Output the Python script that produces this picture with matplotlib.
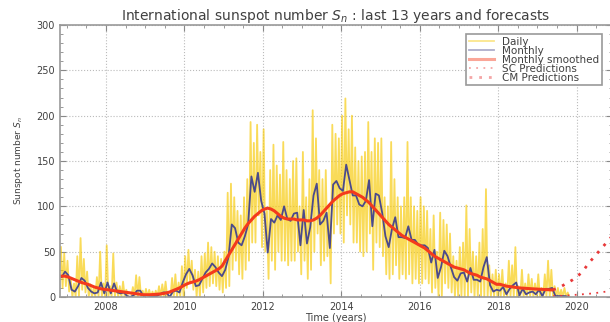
import matplotlib
matplotlib.use("Agg")
import matplotlib.pyplot as plt
import numpy as np
from matplotlib.ticker import MultipleLocator

# monthly mean sunspot number, Nov 2006 .. Oct 2019
start_year = 2006 + 10 / 12.0
monthly = [
    22, 28,
    24, 8, 6, 12, 21, 18, 10, 6, 4, 5, 16, 4,               # 2007
    16, 4, 15, 5, 4, 5, 1, 0, 2, 7, 7, 1,                   # 2008
    2, 1, 1, 1, 3, 5, 5, 0, 6, 7, 5, 16,                    # 2009
    25, 31, 24, 12, 13, 20, 27, 31, 37, 33, 27, 23,         # 2010
    30, 44, 80, 76, 60, 57, 67, 80, 133, 116, 137, 106,     # 2011
    92, 49, 86, 82, 90, 85, 100, 86, 84, 92, 93, 57,        # 2012
    96, 59, 77, 112, 125, 80, 84, 93, 54, 124, 128, 120,    # 2013
    117, 146, 129, 112, 112, 102, 100, 106, 129, 78, 114, 112,  # 2014
    93, 67, 55, 75, 88, 66, 66, 65, 78, 63, 63, 58,         # 2015
    57, 57, 54, 38, 52, 21, 33, 51, 45, 33, 22, 18,         # 2016
    26, 27, 17, 32, 19, 19, 17, 33, 44, 13, 6, 8,           # 2017
    7, 11, 3, 9, 13, 16, 2, 9, 3, 5, 6, 3,                  # 2018
    8, 1, 9, 9, 10, 1, 1, 1, 1, 0,                          # 2019
]

# 13-month smoothed, Nov 2006 .. May 2019
smoothed = [
    23, 23,
    22, 20.5, 19, 17.5, 16, 15, 14, 12.5, 11, 10, 9, 8.5,
    8, 7.5, 7, 6.5, 6, 5.5, 5, 4.5, 4, 3.5, 3, 2.5,
    2.5, 2.5, 2.7, 3, 3.3, 3.8, 4.5, 5.5, 7, 8.5, 10, 12,
    14, 15.5, 16.5, 17.5, 19, 21, 23, 25, 27, 29, 31, 34,
    40, 46, 52, 58, 64, 70, 76, 81, 85, 89, 92, 95,
    97, 98, 97, 95, 92, 89, 87, 86, 86, 86, 85, 85,
    85, 84, 84, 85, 87, 90, 94, 98, 102, 106, 109, 112,
    114, 115, 116, 116, 114, 112, 110, 107, 104, 100, 96, 92,
    88, 84, 80, 77, 74, 71, 68, 66, 64, 62, 60, 58,
    56, 54, 51, 48, 45, 43, 41, 39, 37, 35, 33, 32,
    31, 30, 28, 26, 25, 24, 22, 21, 20, 18, 16, 14,
    14, 13, 12, 11.5, 11, 10.5, 10, 9.8, 9.5, 9.2, 9, 8.8,
    8.6, 8.4, 8.2, 8, 7.8,
]

# daily values: one high and one low reading per month
daily = [
    55, 10, 48, 12,
    40, 6, 20, 0, 15, 0, 45, 0, 65, 8, 42, 5, 28, 0, 14, 0, 10, 0, 22, 0, 50, 0, 15, 0,
    57, 0, 12, 0, 48, 0, 16, 0, 12, 0, 17, 0, 8, 0, 0, 0, 11, 0, 24, 0, 22, 0, 7, 0,
    9, 0, 8, 0, 6, 0, 7, 0, 12, 0, 14, 0, 17, 0, 0, 0, 21, 0, 25, 0, 16, 0, 34, 0,
    45, 10, 52, 15, 40, 8, 30, 0, 28, 0, 45, 5, 48, 10, 60, 12, 55, 15, 50, 12, 45, 8, 42, 5,
    50, 10, 115, 12, 125, 30, 110, 40, 95, 25, 90, 20, 110, 30, 130, 40, 193, 60, 170, 60, 190, 90, 160, 55,
    185, 50, 95, 20, 140, 40, 168, 30, 145, 50, 135, 40, 171, 40, 140, 35, 130, 40, 150, 40, 153, 50, 100, 25,
    160, 40, 110, 20, 130, 30, 206, 50, 175, 70, 140, 35, 130, 40, 140, 45, 100, 15, 190, 70, 180, 80, 175, 70,
    200, 60, 219, 90, 185, 80, 200, 60, 165, 60, 150, 50, 155, 45, 160, 50, 193, 70, 160, 30, 175, 60, 170, 55,
    175, 45, 110, 25, 100, 20, 171, 25, 130, 35, 110, 20, 100, 25, 110, 20, 171, 25, 110, 15, 100, 20, 95, 15,
    110, 15, 100, 20, 95, 15, 75, 5, 90, 10, 50, 0, 93, 0, 85, 15, 80, 10, 70, 5, 45, 0, 40, 0,
    55, 0, 60, 0, 101, 0, 75, 5, 50, 0, 45, 0, 60, 0, 75, 0, 119, 0, 35, 0, 25, 0, 30, 0,
    25, 0, 30, 0, 15, 0, 40, 0, 35, 0, 55, 0, 12, 0, 30, 0, 15, 0, 25, 0, 20, 0, 15, 0,
    25, 0, 10, 0, 25, 0, 40, 0, 30, 0, 12, 0, 10, 0, 8, 0, 10, 0, 5, 0,
]

# forecasts
cm_years = [2019.4, 2019.5, 2019.6, 2019.7, 2019.8, 2019.9, 2020.0, 2020.1,
            2020.2, 2020.3, 2020.4, 2020.5, 2020.6, 2020.7, 2020.8, 2020.9]
cm_pred = [8, 9.5, 11.5, 14, 16.5, 19, 22, 26, 31, 37, 42, 47, 52, 57, 62, 67]
sc_years = [2019.4, 2019.7, 2020.0, 2020.3, 2020.6, 2020.9]
sc_pred = [1, 1.5, 2.5, 3.5, 5, 7]

t_month = start_year + (np.arange(len(monthly)) + 0.5) / 12.0
t_smooth = start_year + (np.arange(len(smoothed)) + 0.5) / 12.0
t_daily = start_year + (np.arange(len(daily)) + 0.5) / 24.0

txt = '#404040'
fig = plt.figure(figsize=(6.10, 3.22), dpi=100)
ax = fig.add_axes([60 / 610., 25 / 322., 552 / 610., 272 / 322.])

ax.plot(t_daily, daily, color='#f7c800', lw=1.3, alpha=0.65, label='Daily')
ax.plot(t_month, monthly, color='#4a4a8c', lw=1.3, label='Monthly')
ax.plot(t_smooth, smoothed, color='#f43a1c', lw=2.2, label='Monthly smoothed')
ax.plot(sc_years, sc_pred, color='#e8393a', lw=1.3, ls=(0, (1, 3)), label='SC Predictions')
ax.plot(cm_years, cm_pred, color='#e8393a', lw=2.0, ls=(0, (1, 2.5)), label='CM Predictions')

ax.set_xlim(2006.83, 2020.9)
ax.set_ylim(0, 300)
ax.xaxis.set_major_locator(MultipleLocator(2))
ax.xaxis.set_minor_locator(MultipleLocator(0.5))
ax.yaxis.set_major_locator(MultipleLocator(50))
ax.yaxis.set_minor_locator(MultipleLocator(10))
ax.tick_params(which='both', direction='in', top=True, right=True, colors='#888888',
               labelcolor=txt, labelsize=7)
ax.tick_params(which='major', length=4)
ax.tick_params(which='minor', length=2)
ax.grid(True, which='major', ls=':', color='#bbbbbb', lw=0.8)
for s in ax.spines.values():
    s.set_color('#999999')
    s.set_linewidth(1.2)

ax.set_title('International sunspot number $S_n$ : last 13 years and forecasts',
             fontsize=10, color=txt, pad=2)
ax.set_xlabel('Time (years)', fontsize=7, color=txt, labelpad=1)
ax.set_ylabel('Sunspot number $S_n$', fontsize=6.5, color=txt, labelpad=8)

leg = ax.legend(loc='upper right', bbox_to_anchor=(607 / 610., 1 - 29 / 322.),
                bbox_transform=fig.transFigure, fontsize=7.5, labelspacing=-0.1,
                handlelength=2.4, borderpad=0.25, fancybox=False, framealpha=1)
leg.get_frame().set_edgecolor('#999999')
leg.get_frame().set_linewidth(1.2)
for h in leg.get_lines():
    h.set_alpha(0.45)
for t in leg.get_texts():
    t.set_color(txt)

fig.savefig('out.png', dpi=100)
